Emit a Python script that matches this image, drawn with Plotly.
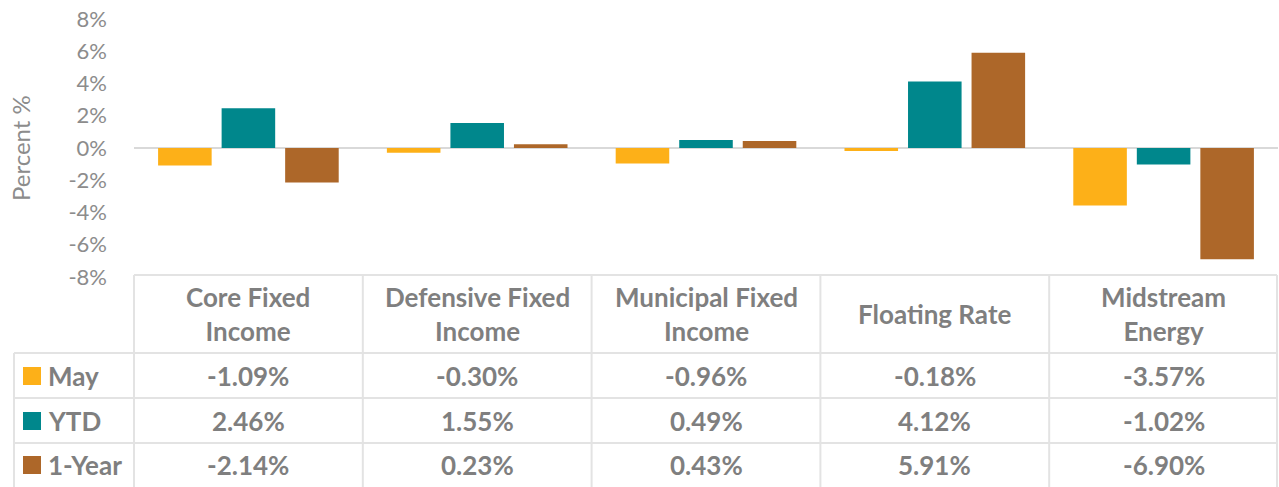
import plotly.graph_objects as go

categories = ["Core Fixed Income", "Defensive Fixed Income", "Municipal Fixed Income", "Floating Rate", "Midstream Energy"]
header_labels = ["Core Fixed<br>Income", "Defensive Fixed<br>Income", "Municipal Fixed<br>Income", "Floating Rate", "Midstream<br>Energy"]
series_names = ["May", "YTD", "1-Year"]
may = [-1.09, -0.30, -0.96, -0.18, -3.57]
ytd = [2.46, 1.55, 0.49, 4.12, -1.02]
one_year = [-2.14, 0.23, 0.43, 5.91, -6.90]
tick_vals = [-8, -6, -4, -2, 0, 2, 4, 6, 8]
tick_text = ["-8%", "-6%", "-4%", "-2%", "0%", "2%", "4%", "6%", "8%"]

colors = ["#FDB018", "#00878C", "#AD6729"]
series = [may, ytd, one_year]
GRAY = "#7F7F7F"
LINE = "#E3E3E3"
FONT = "Lato"

W, H = 1279, 487
L, R, T, B = 134, 1, 19, 210
pw = W - L - R
ph = H - T - B


def px(x):
    return (x - L) / pw


def py(y):
    return (H - B - y) / ph


fig = go.Figure()
for name, vals, c in zip(series_names, series, colors):
    fig.add_trace(go.Bar(x=categories, y=vals, name=name, marker=dict(color=c, line=dict(width=0)),
                         showlegend=False))

shapes = []
# zero line
shapes.append(dict(type="line", xref="paper", yref="y", x0=0, x1=1, y0=0, y1=0,
                   line=dict(color="#D9D9D9", width=2), layer="below"))

# table grid
row_y = [275, 353, 398, 443]
col_x = [134 + i * (pw / 5) for i in range(6)]
shapes.append(dict(type="line", xref="paper", yref="paper", x0=px(134), x1=px(1277), y0=py(275), y1=py(275),
                   line=dict(color=LINE, width=2)))
for yy in row_y[1:]:
    shapes.append(dict(type="line", xref="paper", yref="paper", x0=px(14), x1=px(1277), y0=py(yy), y1=py(yy),
                       line=dict(color=LINE, width=2)))
shapes.append(dict(type="line", xref="paper", yref="paper", x0=px(14), x1=px(14), y0=py(353), y1=py(490),
                   line=dict(color=LINE, width=2)))
for i, xx in enumerate(col_x):
    if i == 5:
        xx = 1277
    shapes.append(dict(type="line", xref="paper", yref="paper", x0=px(xx), x1=px(xx), y0=py(275), y1=py(490),
                       line=dict(color=LINE, width=2)))

annotations = []
# header
for i, lab in enumerate(header_labels):
    cx = (col_x[i] + col_x[i + 1]) / 2
    annotations.append(dict(xref="paper", yref="paper", x=px(cx), y=py(314), text=lab, showarrow=False,
                            font=dict(family=FONT, size=26, color=GRAY, weight="bold"),
                            xanchor="center", yanchor="middle", align="center"))
# rows
row_centers = [376, 421, 465]
for r, (name, vals, c) in enumerate(zip(series_names, series, colors)):
    yc = row_centers[r]
    shapes.append(dict(type="rect", xref="paper", yref="paper", x0=px(23), x1=px(41), y0=py(yc - 9), y1=py(yc + 9),
                       fillcolor=c, line=dict(width=0)))
    annotations.append(dict(xref="paper", yref="paper", x=px(46), y=py(yc), text=name, showarrow=False,
                            font=dict(family=FONT, size=26, color=GRAY, weight="bold"),
                            xanchor="left", yanchor="middle"))
    for i, v in enumerate(vals):
        cx = (col_x[i] + col_x[i + 1]) / 2
        annotations.append(dict(xref="paper", yref="paper", x=px(cx), y=py(yc), text=f"{v:.2f}%", showarrow=False,
                                font=dict(family=FONT, size=26, color=GRAY, weight="bold"),
                                xanchor="center", yanchor="middle"))

# y-axis title
annotations.append(dict(xref="paper", yref="paper", x=px(20), y=py(148), text="Percent %", showarrow=False,
                        textangle=-90, font=dict(family=FONT, size=24, color="#8C8C8C"),
                        xanchor="center", yanchor="middle"))

fig.update_layout(
    width=W, height=H,
    margin=dict(l=L, r=R, t=T, b=B, autoexpand=False),
    paper_bgcolor="white", plot_bgcolor="white",
    barmode="group", bargap=0.167, bargroupgap=0.157,
    xaxis=dict(showticklabels=False, showgrid=False, zeroline=False, showline=False, ticks=""),
    yaxis=dict(range=[-8, 8], tickvals=tick_vals, ticktext=tick_text, showgrid=False, zeroline=False,
               showline=False, ticks="", tickfont=dict(family=FONT, size=22, color="#8C8C8C"), ticklabelstandoff=26),
    shapes=shapes, annotations=annotations,
    font=dict(family=FONT),
)

fig.write_html("out.html", config={"displayModeBar": False},
               post_script="document.body.style.margin='0px';")
